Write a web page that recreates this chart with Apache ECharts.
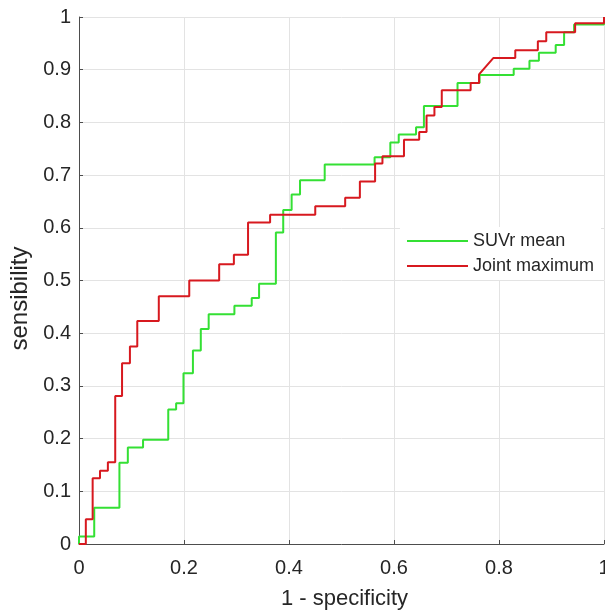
<!DOCTYPE html>
<html>
<head>
<meta charset="utf-8">
<script src="https://cdn.jsdelivr.net/npm/echarts@6/dist/echarts.min.js"></script>
<style>
html,body{margin:0;padding:0;background:#fff;}
#chart{width:605px;height:612px;}
</style>
</head>
<body>
<div id="chart"></div>
<script>
// ROC staircase vertices (1 - specificity, sensibility)
var suvrFpr = [0, 0, 0.029, 0.029, 0.077, 0.077, 0.093, 0.093, 0.122, 0.122, 0.170, 0.170, 0.185, 0.185, 0.199, 0.199, 0.217, 0.217, 0.232, 0.232, 0.247, 0.247, 0.296, 0.296, 0.329, 0.329, 0.343, 0.343, 0.375, 0.375, 0.389, 0.389, 0.405, 0.405, 0.421, 0.421, 0.468, 0.468, 0.563, 0.563, 0.593, 0.593, 0.609, 0.609, 0.642, 0.642, 0.657, 0.657, 0.721, 0.721, 0.763, 0.763, 0.828, 0.828, 0.858, 0.858, 0.876, 0.876, 0.908, 0.908, 0.924, 0.924, 0.943, 0.943, 1, 1];
var suvrTpr = [0, 0.014, 0.014, 0.069, 0.069, 0.154, 0.154, 0.183, 0.183, 0.198, 0.198, 0.255, 0.255, 0.267, 0.267, 0.324, 0.324, 0.367, 0.367, 0.408, 0.408, 0.436, 0.436, 0.452, 0.452, 0.467, 0.467, 0.494, 0.494, 0.591, 0.591, 0.634, 0.634, 0.663, 0.663, 0.690, 0.690, 0.720, 0.720, 0.734, 0.734, 0.762, 0.762, 0.777, 0.777, 0.791, 0.791, 0.831, 0.831, 0.875, 0.875, 0.890, 0.890, 0.902, 0.902, 0.917, 0.917, 0.932, 0.932, 0.947, 0.947, 0.971, 0.971, 0.986, 0.986, 1];

var jointFpr = [0, 0.013, 0.013, 0.026, 0.026, 0.040, 0.040, 0.055, 0.055, 0.069, 0.069, 0.082, 0.082, 0.097, 0.097, 0.111, 0.111, 0.152, 0.152, 0.210, 0.210, 0.267, 0.267, 0.295, 0.295, 0.322, 0.322, 0.364, 0.364, 0.450, 0.450, 0.507, 0.507, 0.535, 0.535, 0.564, 0.564, 0.578, 0.578, 0.619, 0.619, 0.648, 0.648, 0.662, 0.662, 0.677, 0.677, 0.691, 0.691, 0.746, 0.746, 0.762, 0.762, 0.789, 0.831, 0.831, 0.874, 0.874, 0.890, 0.890, 0.945, 0.945, 1, 1];
var jointTpr = [0, 0, 0.047, 0.047, 0.125, 0.125, 0.139, 0.139, 0.155, 0.155, 0.281, 0.281, 0.343, 0.343, 0.375, 0.375, 0.423, 0.423, 0.470, 0.470, 0.500, 0.500, 0.531, 0.531, 0.549, 0.549, 0.610, 0.610, 0.625, 0.625, 0.641, 0.641, 0.657, 0.657, 0.688, 0.688, 0.722, 0.722, 0.736, 0.736, 0.767, 0.767, 0.782, 0.782, 0.813, 0.813, 0.829, 0.829, 0.861, 0.861, 0.875, 0.875, 0.891, 0.922, 0.922, 0.937, 0.937, 0.954, 0.954, 0.971, 0.971, 0.988, 0.988, 1];

var seriesNames = ['SUVr mean', 'Joint maximum'];
var xAxisName = '1 - specificity';
var yAxisName = 'sensibility';

function zip(a, b) { return a.map(function (v, i) { return [v, b[i]]; }); }

var chart = echarts.init(document.getElementById('chart'), null, {renderer: 'canvas'});
var textColor = '#262626';
var font = 'Liberation Sans, Arial, Helvetica, sans-serif';
chart.setOption({
  animation: false,
  backgroundColor: '#ffffff',
  grid: {left: 79, right: 1, top: 17, bottom: 68, containLabel: false, outerBoundsMode: 'none'},
  legend: {
    orient: 'vertical',
    left: 400, top: 227,
    icon: 'rect',
    itemWidth: 61, itemHeight: 2, itemGap: 7,
    padding: [5, 7, 5, 7],
    backgroundColor: '#ffffff',
    borderWidth: 0,
    textStyle: {fontSize: 18, color: textColor, fontFamily: font, lineHeight: 18},
    data: seriesNames
  },
  xAxis: {
    type: 'value', min: 0, max: 1, interval: 0.2,
    name: xAxisName, nameLocation: 'middle', nameGap: 44,
    nameTextStyle: {fontSize: 22, color: textColor, fontFamily: font, padding: [0, 0, 0, 6]},
    axisLine: {show: true, lineStyle: {color: '#4d4d4d', width: 1}},
    axisTick: {show: true, inside: true, length: 4, lineStyle: {color: '#4d4d4d'}},
    axisLabel: {fontSize: 20, color: textColor, fontFamily: font, margin: 14},
    splitLine: {show: true, lineStyle: {color: '#e3e3e3', width: 1}}
  },
  yAxis: {
    type: 'value', min: 0, max: 1, interval: 0.1,
    name: yAxisName, nameLocation: 'middle', nameGap: 41, nameRotate: 90,
    nameTextStyle: {fontSize: 24, color: textColor, fontFamily: font, padding: [0, 36, 0, 0]},
    axisLine: {show: true, lineStyle: {color: '#4d4d4d', width: 1}},
    axisTick: {show: true, inside: true, length: 4, lineStyle: {color: '#4d4d4d'}},
    axisLabel: {fontSize: 20, color: textColor, fontFamily: font, margin: 8},
    splitLine: {show: true, lineStyle: {color: '#e3e3e3', width: 1}}
  },
  series: [
    {
      name: seriesNames[0], type: 'line', data: zip(suvrFpr, suvrTpr),
      symbol: 'none', color: '#34e034',
      lineStyle: {width: 2, color: '#34e034'}
    },
    {
      name: seriesNames[1], type: 'line', data: zip(jointFpr, jointTpr),
      symbol: 'none', color: '#d7191f',
      lineStyle: {width: 2, color: '#d7191f'}
    }
  ]
});
</script>
</body>
</html>
